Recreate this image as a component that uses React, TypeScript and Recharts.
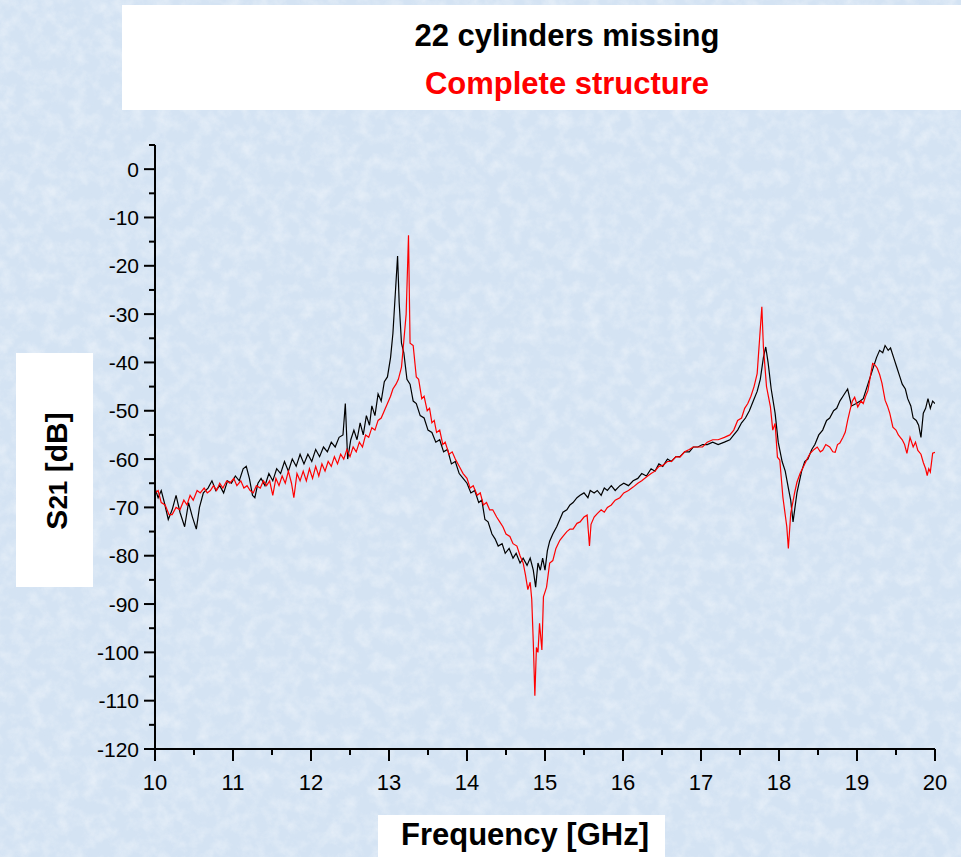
import React from "react";
import { LineChart, Line, XAxis, YAxis } from "recharts";

// Frequency (GHz) / S21 (dB)
const missingSeries: [number, number][] = [
  [10.0, -66], [10.04, -68], [10.08, -66.5], [10.12, -69], [10.17, -72.5], [10.22, -70.5],
  [10.27, -67.5], [10.32, -71], [10.38, -74], [10.43, -69], [10.48, -72], [10.53, -74.5],
  [10.57, -70], [10.62, -67], [10.68, -66], [10.73, -64.5], [10.78, -66.5], [10.83, -65.5],
  [10.88, -67], [10.93, -64.5], [10.98, -65], [11.03, -63.5], [11.08, -64.5], [11.13, -62],
  [11.17, -61.5], [11.21, -64], [11.25, -67.5], [11.28, -68], [11.32, -65], [11.36, -64],
  [11.41, -65.5], [11.46, -63], [11.51, -64.5], [11.56, -62], [11.61, -63], [11.66, -60.5],
  [11.71, -62.5], [11.76, -60], [11.81, -61.5], [11.86, -59], [11.91, -61], [11.96, -59],
  [12.01, -60.5], [12.06, -58], [12.11, -59.5], [12.16, -57.5], [12.21, -58.5], [12.26, -56.5],
  [12.31, -57.5], [12.36, -55.5], [12.41, -55], [12.44, -48.5], [12.47, -60], [12.51, -56],
  [12.55, -54], [12.59, -56], [12.63, -52.5], [12.67, -55], [12.71, -51], [12.75, -53],
  [12.78, -49], [12.82, -51], [12.86, -46.5], [12.9, -48], [12.94, -44], [12.98, -43],
  [13.02, -39], [13.05, -34], [13.08, -26], [13.11, -18], [13.13, -27.5], [13.16, -36],
  [13.19, -38], [13.23, -43.5], [13.27, -44.5], [13.31, -48], [13.35, -48.5], [13.4, -51],
  [13.45, -51.5], [13.5, -54], [13.55, -54.5], [13.6, -56.5], [13.65, -56], [13.7, -58.5],
  [13.75, -58], [13.8, -61], [13.85, -60.5], [13.9, -63], [13.95, -64], [14.0, -65],
  [14.05, -67], [14.1, -66.5], [14.15, -69], [14.19, -68.5], [14.23, -72.5], [14.27, -73],
  [14.32, -75.5], [14.36, -76.5], [14.4, -78], [14.45, -77.5], [14.49, -79.5], [14.54, -78.5],
  [14.59, -80.5], [14.63, -79.5], [14.68, -81.5], [14.72, -80.5], [14.77, -82], [14.81, -80.5],
  [14.85, -83], [14.88, -86.5], [14.91, -81.5], [14.94, -83], [14.97, -80.5], [15.0, -83],
  [15.03, -79], [15.06, -77], [15.1, -75.5], [15.15, -74], [15.19, -72.5], [15.23, -71],
  [15.28, -70.5], [15.32, -69.5], [15.36, -69], [15.41, -68], [15.45, -67.5], [15.5, -67],
  [15.55, -68], [15.58, -66.5], [15.63, -67], [15.67, -66.5], [15.72, -67.5], [15.76, -66],
  [15.8, -66.5], [15.85, -65.5], [15.9, -66.5], [15.96, -65.5], [16.01, -65], [16.07, -65.5],
  [16.13, -64.5], [16.19, -64], [16.24, -63], [16.3, -63.5], [16.36, -62], [16.41, -62.5],
  [16.46, -61], [16.51, -61.5], [16.57, -60], [16.62, -60.5], [16.68, -59.5], [16.73, -59.5],
  [16.79, -58.5], [16.85, -58.5], [16.9, -57.5], [16.96, -57.5], [17.02, -57], [17.08, -57],
  [17.15, -56.5], [17.22, -57], [17.3, -56.5], [17.37, -56], [17.42, -55], [17.47, -54],
  [17.52, -52.5], [17.57, -51.5], [17.62, -50], [17.67, -48], [17.72, -46], [17.76, -43.5],
  [17.8, -39], [17.83, -36.8], [17.86, -40], [17.9, -45.5], [17.95, -50.5], [17.99, -56.5],
  [18.04, -60.5], [18.08, -62.5], [18.12, -66], [18.15, -68.5], [18.18, -73], [18.23, -67],
  [18.29, -62.5], [18.33, -60.5], [18.37, -60], [18.42, -58], [18.46, -57], [18.51, -55],
  [18.56, -54], [18.61, -52], [18.65, -51.5], [18.7, -50], [18.74, -49.5], [18.78, -48],
  [18.82, -47], [18.88, -45.5], [18.93, -49], [18.99, -48.5], [19.04, -48], [19.08, -47.5],
  [19.14, -44.5], [19.2, -41.5], [19.25, -39], [19.29, -37.5], [19.33, -38], [19.36, -36.5],
  [19.4, -37.5], [19.43, -37], [19.47, -39], [19.51, -41], [19.55, -43], [19.58, -44.5],
  [19.62, -45.5], [19.65, -47.5], [19.69, -49], [19.72, -51.5], [19.76, -52], [19.79, -53],
  [19.82, -55.5], [19.85, -50.5], [19.88, -49.5], [19.91, -47.5], [19.94, -49.5], [19.97, -48],
  [20.0, -48.5],
];

const completeSeries: [number, number][] = [
  [10.0, -67], [10.04, -66.5], [10.08, -69], [10.13, -69.5], [10.18, -71.5], [10.22, -71.5],
  [10.27, -70], [10.32, -70.5], [10.37, -68.5], [10.41, -69.5], [10.45, -67.5], [10.49, -68.5],
  [10.54, -66.5], [10.58, -67], [10.63, -66], [10.67, -67], [10.71, -66.5], [10.75, -65.5],
  [10.79, -66.5], [10.83, -65], [10.87, -66], [10.92, -64.5], [10.96, -65], [11.01, -64],
  [11.05, -65.5], [11.1, -64.5], [11.14, -66], [11.18, -65.5], [11.22, -66.5], [11.26, -67],
  [11.3, -65.5], [11.35, -66], [11.39, -64.5], [11.43, -65.5], [11.47, -64.5], [11.51, -67.5],
  [11.55, -64], [11.59, -65.5], [11.63, -63.5], [11.67, -65], [11.71, -62.5], [11.75, -65],
  [11.78, -68], [11.82, -63], [11.86, -64.5], [11.9, -62.5], [11.94, -64.5], [11.98, -62],
  [12.02, -64], [12.06, -61.5], [12.1, -63.5], [12.14, -61], [12.18, -62.5], [12.22, -60.5],
  [12.26, -61.5], [12.3, -59.5], [12.34, -61], [12.38, -59], [12.42, -60], [12.46, -58],
  [12.5, -59.5], [12.54, -57.5], [12.58, -58.5], [12.62, -56.5], [12.66, -57.5], [12.7, -55],
  [12.74, -55.5], [12.78, -53.5], [12.82, -54], [12.86, -52], [12.9, -51.5], [12.94, -50],
  [12.98, -48.5], [13.02, -47], [13.05, -45.5], [13.09, -44.5], [13.12, -43.5], [13.16, -41],
  [13.19, -35.5], [13.22, -30], [13.25, -13.7], [13.27, -36], [13.31, -36.5], [13.35, -43],
  [13.38, -43.5], [13.42, -47.5], [13.45, -47], [13.49, -50], [13.52, -49.5], [13.55, -52.5],
  [13.58, -52], [13.61, -54.5], [13.65, -54], [13.69, -57], [13.72, -56.5], [13.77, -59],
  [13.81, -58.5], [13.85, -60], [13.9, -61.5], [13.95, -63], [14.0, -64], [14.04, -66],
  [14.08, -65.5], [14.13, -67.5], [14.17, -67], [14.21, -69.5], [14.25, -69], [14.29, -70.5],
  [14.33, -70.5], [14.38, -72], [14.42, -73], [14.46, -74], [14.5, -75.5], [14.55, -76],
  [14.59, -77.5], [14.64, -78], [14.68, -80], [14.72, -81.5], [14.75, -84], [14.78, -87],
  [14.81, -85.5], [14.83, -89], [14.85, -98], [14.87, -109], [14.89, -99], [14.91, -100],
  [14.93, -94], [14.96, -99.5], [14.98, -88.5], [15.02, -86.5], [15.06, -81.5], [15.1, -81],
  [15.14, -78.5], [15.19, -76.8], [15.23, -76], [15.28, -75], [15.32, -74.5], [15.36, -74.5],
  [15.41, -73.3], [15.45, -73], [15.5, -72], [15.54, -71.6], [15.57, -78], [15.59, -73.5],
  [15.63, -72], [15.67, -71.3], [15.72, -70.5], [15.76, -71], [15.8, -70], [15.85, -69.5],
  [15.9, -68.5], [15.96, -68], [16.01, -67], [16.07, -66.5], [16.13, -65.8], [16.19, -65],
  [16.24, -64.5], [16.3, -63.7], [16.36, -63], [16.41, -62.5], [16.46, -61.5], [16.51, -61.3],
  [16.57, -60.5], [16.62, -60.5], [16.68, -59.5], [16.73, -59.6], [16.79, -58.5], [16.85, -58],
  [16.9, -57.5], [16.96, -57.5], [17.02, -57.5], [17.08, -56.5], [17.15, -56], [17.22, -56],
  [17.3, -55.5], [17.37, -55], [17.42, -54], [17.47, -52], [17.52, -51.5], [17.56, -49.5],
  [17.6, -48.5], [17.64, -47], [17.68, -45], [17.72, -42.3], [17.75, -35.4], [17.78, -28.5],
  [17.8, -36.8], [17.84, -45], [17.89, -49.2], [17.92, -54], [17.95, -52.6], [17.98, -59.6],
  [18.01, -60.2], [18.05, -67.9], [18.1, -74], [18.12, -78.5], [18.15, -71.3], [18.2, -67],
  [18.23, -64.8], [18.27, -63], [18.31, -61.7], [18.36, -60], [18.4, -58.8], [18.45, -58],
  [18.49, -57.5], [18.53, -58.5], [18.56, -58.2], [18.6, -57], [18.65, -57.5], [18.69, -58.5],
  [18.72, -58.6], [18.75, -57], [18.78, -56.7], [18.82, -55.5], [18.85, -54.4], [18.88, -52],
  [18.91, -49.9], [18.94, -48], [18.97, -47.2], [19.01, -49.2], [19.05, -48], [19.08, -48.5],
  [19.11, -47], [19.14, -45.8], [19.17, -43], [19.2, -40.2], [19.23, -40.5], [19.26, -41.2],
  [19.29, -42.5], [19.32, -44.3], [19.36, -47.8], [19.39, -49], [19.42, -50.5], [19.46, -53.4],
  [19.5, -54], [19.53, -55], [19.58, -56], [19.61, -57], [19.64, -58.8], [19.68, -55.5],
  [19.72, -57.5], [19.75, -56.5], [19.78, -58.2], [19.82, -59], [19.85, -60.7], [19.88, -62],
  [19.9, -63.4], [19.92, -62], [19.94, -62.7], [19.97, -58.8], [20.0, -58.6],
];

const xMajorTicks = [10, 11, 12, 13, 14, 15, 16, 17, 18, 19, 20];
const xMinorTicks = [10.5, 11.5, 12.5, 13.5, 14.5, 15.5, 16.5, 17.5, 18.5, 19.5];
const yMajorTicks = [0, -10, -20, -30, -40, -50, -60, -70, -80, -90, -100, -110, -120];
const yMinorTicks = [5, -5, -15, -25, -35, -45, -55, -65, -75, -85, -95, -105, -115];

const titleMissing = "22 cylinders missing";
const titleComplete = "Complete structure";
const xTitle = "Frequency [GHz]";

const FONT = "'Liberation Sans', Arial, Helvetica, sans-serif";

const missingData = missingSeries.map(([f, v]) => ({ f, v }));
const completeData = completeSeries.map(([f, v]) => ({ f, v }));
const xTicks = [...xMajorTicks, ...xMinorTicks].sort((a, b) => a - b);
const yTicks = [...yMajorTicks, ...yMinorTicks].sort((a, b) => b - a);

const XTick = (props: any) => {
  const { x, y, payload } = props;
  const major = xMajorTicks.includes(payload.value);
  return (
    <g>
      <line x1={x} x2={x} y1={y} y2={y + (major ? 12 : 6)} stroke="#000" strokeWidth={2} />
      {major && (
        <text x={x} y={y + 41} textAnchor="middle" fontFamily={FONT} fontSize={22} fill="#000">
          {payload.value}
        </text>
      )}
    </g>
  );
};

const YTick = (props: any) => {
  const { x, y, payload } = props;
  const major = yMajorTicks.includes(payload.value);
  return (
    <g>
      <line x1={x - (major ? 11 : 6)} x2={x} y1={y} y2={y} stroke="#000" strokeWidth={2} />
      {major && (
        <text x={x - 16} y={y + 7.5} textAnchor="end" fontFamily={FONT} fontSize={21} fill="#000">
          {payload.value}
        </text>
      )}
    </g>
  );
};

export default function App() {
  return (
    <div style={{ position: "absolute", left: 0, top: 0, width: 961, height: 857, overflow: "hidden", background: "#d4e3f3" }}>
      <svg width={961} height={857} style={{ position: "absolute", left: 0, top: 0 }}>
        <defs>
          <filter id="tex" x="0" y="0" width="100%" height="100%">
            <feTurbulence type="fractalNoise" baseFrequency="0.07" numOctaves="4" seed="7" />
            <feColorMatrix type="matrix" values="0 0 0 0 1  0 0 0 0 1  0 0 0 0 1  1.4 0 0 0 -0.55" />
          </filter>
          <filter id="tex2" x="0" y="0" width="100%" height="100%">
            <feTurbulence type="fractalNoise" baseFrequency="0.12" numOctaves="3" seed="11" />
            <feColorMatrix type="matrix" values="0 0 0 0 0.66  0 0 0 0 0.77  0 0 0 0 0.92  -1.4 0 0 0 0.65" />
          </filter>
        </defs>
        <rect x={0} y={0} width={961} height={857} filter="url(#tex)" opacity={0.55} />
        <rect x={0} y={0} width={961} height={857} filter="url(#tex2)" opacity={0.35} />
        <rect x={122} y={5} width={839} height={105} fill="#fff" />
        <rect x={16} y={353} width={77} height={234} fill="#fff" />
        <rect x={378} y={815} width={287} height={42} fill="#fff" />
        <text x={567} y={46} textAnchor="middle" fontFamily={FONT} fontSize={31} fontWeight="bold" fill="#000">
          {titleMissing}
        </text>
        <text x={567} y={94} textAnchor="middle" fontFamily={FONT} fontSize={31} fontWeight="bold" fill="#ff0000">
          {titleComplete}
        </text>
        <text x={525} y={845} textAnchor="middle" fontFamily={FONT} fontSize={31} fontWeight="bold" fill="#000">
          {xTitle}
        </text>
        <text transform="translate(67,471) rotate(-90)" textAnchor="middle" fontFamily={FONT} fontSize={30} fontWeight="bold" fill="#000">
          S<tspan fontSize={26}>21</tspan> [dB]
        </text>
      </svg>
      <div style={{ position: "absolute", left: 0, top: 0 }}>
        <LineChart width={961} height={857} margin={{ top: 145, right: 26, bottom: 68, left: 95 }}>
          <XAxis
            dataKey="f"
            type="number"
            domain={[10, 20]}
            ticks={xTicks}
            interval={0}
            allowDataOverflow
            height={40}
            tickSize={0}
            tickMargin={0}
            tickLine={false}
            axisLine={{ stroke: "#000", strokeWidth: 2 }}
            tick={<XTick />}
          />
          <YAxis
            type="number"
            domain={[-120, 5]}
            ticks={yTicks}
            interval={0}
            allowDataOverflow
            width={60}
            tickSize={0}
            tickMargin={0}
            tickLine={false}
            axisLine={{ stroke: "#000", strokeWidth: 2 }}
            tick={<YTick />}
          />
          <Line data={missingData} dataKey="v" type="linear" stroke="#000" strokeWidth={1.2} dot={false} isAnimationActive={false} />
          <Line data={completeData} dataKey="v" type="linear" stroke="#ff0000" strokeWidth={1.2} dot={false} isAnimationActive={false} />
        </LineChart>
      </div>
    </div>
  );
}
